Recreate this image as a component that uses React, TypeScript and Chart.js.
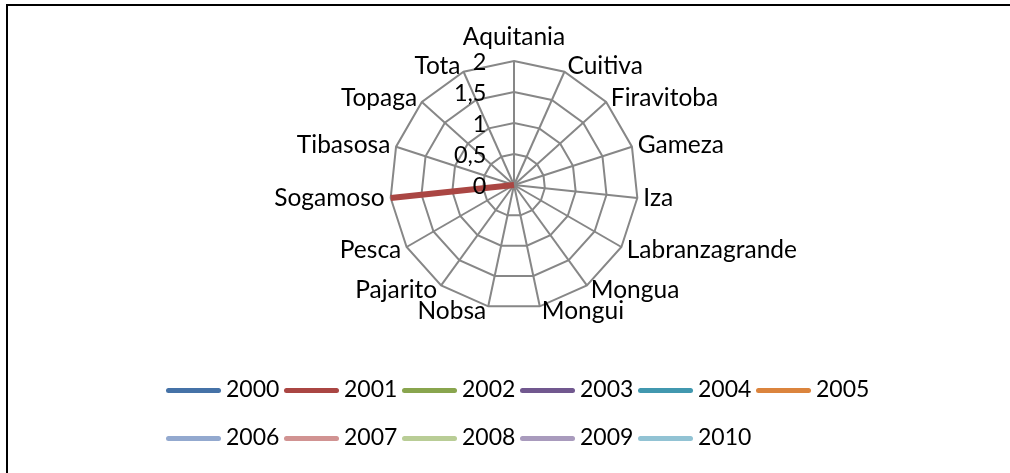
import React, { useEffect, useRef } from "react";
import { Chart, registerables } from "chart.js";

Chart.register(...registerables);

const categories = [
  "Aquitania", "Cuitiva", "Firavitoba", "Gameza", "Iza", "Labranzagrande",
  "Mongua", "Mongui", "Nobsa", "Pajarito", "Pesca", "Sogamoso",
  "Tibasosa", "Topaga", "Tota",
];

const years = ["2000", "2001", "2002", "2003", "2004", "2005", "2006", "2007", "2008", "2009", "2010"];

const s2000 = [0, 0, 0, 0, 0, 0, 0, 0, 0, 0, 0, 0, 0, 0, 0];
const s2001 = [0, 0, 0, 0, 0, 0, 0, 0, 0, 0, 0, 2, 0, 0, 0];
const s2002 = [0, 0, 0, 0, 0, 0, 0, 0, 0, 0, 0, 0, 0, 0, 0];
const s2003 = [0, 0, 0, 0, 0, 0, 0, 0, 0, 0, 0, 0, 0, 0, 0];
const s2004 = [0, 0, 0, 0, 0, 0, 0, 0, 0, 0, 0, 0, 0, 0, 0];
const s2005 = [0, 0, 0, 0, 0, 0, 0, 0, 0, 0, 0, 0, 0, 0, 0];
const s2006 = [0, 0, 0, 0, 0, 0, 0, 0, 0, 0, 0, 0, 0, 0, 0];
const s2007 = [0, 0, 0, 0, 0, 0, 0, 0, 0, 0, 0, 0, 0, 0, 0];
const s2008 = [0, 0, 0, 0, 0, 0, 0, 0, 0, 0, 0, 0, 0, 0, 0];
const s2009 = [0, 0, 0, 0, 0, 0, 0, 0, 0, 0, 0, 0, 0, 0, 0];
const s2010 = [0, 0, 0, 0, 0, 0, 0, 0, 0, 0, 0, 0, 0, 0, 0];

const seriesValues = [s2000, s2001, s2002, s2003, s2004, s2005, s2006, s2007, s2008, s2009, s2010];

const colors = [
  "#4572A7", "#AA4643", "#89A54E", "#71588F", "#4198AF", "#DB843D",
  "#93A9CF", "#D19392", "#B9CD96", "#A99BBD", "#92C3D4",
];

const tickMin = 0;
const tickMax = 2;
const tickStep = 0.5;

const FONT = "Lato, 'Open Sans', sans-serif";
const LABEL_SIZE = 24.5;
const TICK_SIZE = 23.5;
const LEGEND_SIZE = 23;

const pointLabelPlugin = {
  id: "excelPointLabels",
  afterDatasetsDraw(chart: any) {
    const scale = chart.scales.r;
    const ctx = chart.ctx;
    const labels: string[] = chart.data.labels;
    ctx.save();
    ctx.font = `${LABEL_SIZE}px ${FONT}`;
    ctx.fillStyle = "#000";
    ctx.textBaseline = "middle";
    const r = scale.drawingArea;
    labels.forEach((lab, i) => {
      const p = scale.getPointPosition(i, r);
      const a = scale.getIndexAngle(i);
      const c = Math.cos(a);
      const s = Math.sin(a);
      let x = p.x;
      let y = p.y;
      if (c > 0.99) {
        ctx.textAlign = "center";
        y = p.y - 23 - 0.65;
      } else {
        const dx = 1 + 5 * Math.abs(s);
        if (s > 0) {
          ctx.textAlign = "left";
          x = p.x + dx;
        } else {
          ctx.textAlign = "right";
          x = p.x - dx;
        }
        const dy = -5.5 * c + 0.5;
        y = p.y + dy - 0.65;
      }
      ctx.fillText(lab, x, y);
    });
    // tick labels
    ctx.font = `${TICK_SIZE}px ${FONT}`;
    ctx.textAlign = "right";
    scale.ticks.forEach((t: any) => {
      const d = scale.getDistanceFromCenterForValue(t.value);
      const txt = String(t.value).replace(".", ",");
      ctx.fillText(txt, scale.xCenter - 27.5, scale.yCenter - d + 1.9);
    });
    ctx.restore();
  },
};

const legendPlugin = {
  id: "excelLegend",
  afterDraw(chart: any) {
    const ctx = chart.ctx;
    const ds = chart.data.datasets;
    const perRow = 6;
    const colW = 118;
    const swatch = 55;
    const lw = 5;
    const totalW = perRow * colW - 6;
    const startX = chart.width / 2 + 12 - totalW / 2;
    const row0 = chart.chartArea.bottom + 81.5;
    const rowGap = 48;
    ctx.save();
    ctx.font = `${LEGEND_SIZE}px ${FONT}`;
    ctx.textBaseline = "middle";
    ctx.textAlign = "left";
    ds.forEach((d: any, i: number) => {
      const col = i % perRow;
      const row = Math.floor(i / perRow);
      const x = startX + col * colW;
      const y = row0 + row * rowGap;
      ctx.beginPath();
      ctx.lineCap = "round";
      ctx.lineWidth = lw;
      ctx.strokeStyle = d.borderColor;
      ctx.moveTo(x + lw / 2, y);
      ctx.lineTo(x + swatch - lw / 2, y);
      ctx.stroke();
      ctx.fillStyle = "#000";
      ctx.fillText(d.label, x + swatch + 5, y - 0.6);
    });
    ctx.restore();
  },
};

export default function App() {
  const ref = useRef<HTMLCanvasElement | null>(null);
  useEffect(() => {
    if (!ref.current) return;
    const chart = new Chart(ref.current, {
      type: "radar",
      data: {
        labels: categories,
        datasets: years.map((y, k) => ({
          label: y,
          data: seriesValues[k],
          borderColor: colors[k],
          backgroundColor: colors[k],
          borderWidth: 6,
          pointRadius: 0,
          pointHoverRadius: 0,
          fill: false,
        })),
      },
      options: {
        responsive: false,
        animation: false,
        layout: { padding: { left: 390, right: 372, top: 61, bottom: 164 } },
        plugins: { legend: { display: false }, tooltip: { enabled: false } },
        scales: {
          r: {
            min: tickMin,
            max: tickMax,
            ticks: { stepSize: tickStep, display: false },
            grid: { color: "#878787", lineWidth: 2 },
            angleLines: { color: "#878787", lineWidth: 2 },
            pointLabels: { display: false },
          },
        },
      } as any,
      plugins: [pointLabelPlugin, legendPlugin],
    });
    return () => chart.destroy();
  }, []);

  return (
    <div style={{ position: "fixed", left: 0, top: 0, width: 1010, height: 473, overflow: "hidden", background: "#fff" }}>
      <div style={{ position: "absolute", left: 6, top: 4, width: 1100, height: 600, border: "2px solid #000", boxSizing: "border-box" }} />
      <canvas ref={ref} width={1010} height={473} style={{ position: "absolute", left: 0, top: 0, width: 1010, height: 473 }} />
    </div>
  );
}
